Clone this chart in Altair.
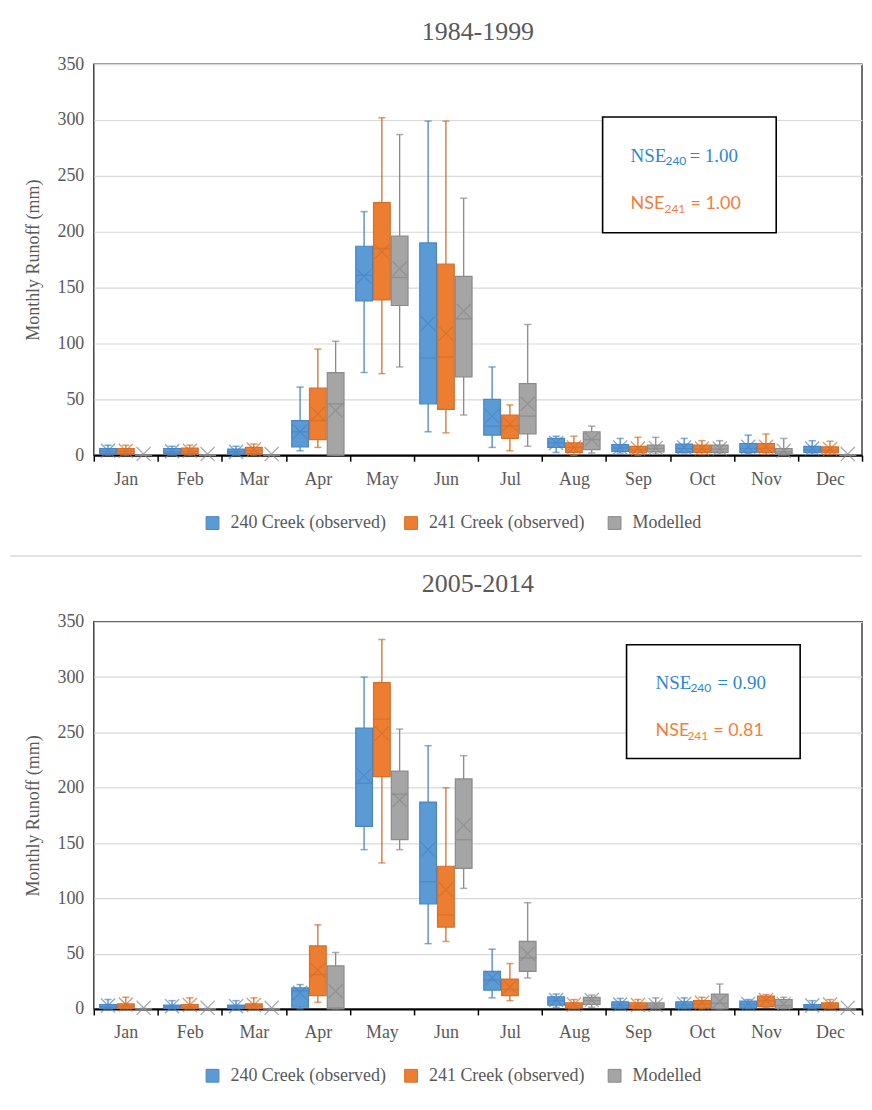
import altair as alt
import pandas as pd

months = ["Jan", "Feb", "Mar", "Apr", "May", "Jun", "Jul", "Aug", "Sep", "Oct", "Nov", "Dec"]
series = ["240 Creek (observed)", "241 Creek  (observed)", "Modelled"]
fills = ["#5B9BD5", "#ED7D31", "#A5A5A5"]
strokes = ["#4A85C4", "#D2702C", "#8A8A8A"]

# ---------- 1984-1999 ----------
p1_240_lo   = [0, 0, 0, 4, 74, 21, 7, 2.5, 2, 2, 1.5, 1]
p1_240_q1   = [1.5, 1.5, 1, 7.5, 138, 46, 18, 7, 3.5, 2.5, 2.5, 2.5]
p1_240_med  = [3.5, 3, 3, 21, 161, 87, 26, 11, 6.5, 6, 6, 5]
p1_240_q3   = [6, 6, 5.5, 31, 187, 190, 50, 15, 9.5, 10, 10.5, 8]
p1_240_hi   = [9, 8, 8, 61, 218, 299, 79, 17, 15, 15, 18, 13]
p1_240_mean = [4, 3.5, 3, 21, 160, 118, 35, 11, 7, 7, 7.5, 6]

p1_241_lo   = [0, 0, 0, 7, 73, 20, 4, 0, 0, 0.5, 1, 0.5]
p1_241_q1   = [1.5, 1.5, 1.5, 14, 139, 41, 15, 2.5, 2, 2.5, 2.5, 2]
p1_241_med  = [3.5, 3.5, 4, 31, 185, 88, 26, 7, 5, 5.5, 6, 4.5]
p1_241_q3   = [6, 6.3, 7, 60, 226, 171, 36, 11, 8, 9, 10.5, 7.5]
p1_241_hi   = [9, 9, 10, 95, 302, 299, 45, 17, 16, 13, 19, 12.5]
p1_241_mean = [4, 4, 5, 37, 182, 109, 28, 7, 6, 6, 7.5, 5.5]

p1_mod_lo   = [0, 0, 0, 0, 79, 36, 8, 2, 1, 1, 0, 0]
p1_mod_q1   = [0, 0, 0, 0, 134, 70, 19, 5, 3, 2.5, 1, 0]
p1_mod_med  = [0, 0, 0, 46, 159, 122, 35, 14, 6, 5.5, 3, 0]
p1_mod_q3   = [0, 0, 0, 74, 196, 160, 64, 21, 9, 9, 6, 0]
p1_mod_hi   = [0.5, 0.5, 0.5, 102, 287, 230, 117, 26, 16, 13, 15, 0.5]
p1_mod_mean = [1, 1, 1, 40, 167, 129, 46, 14, 6.5, 6, 4, 1]

# ---------- 2005-2014 ----------
p2_240_lo   = [0, 0, 0, 0, 144, 59, 10, 1.5, 0, 0, 0, 0]
p2_240_q1   = [0.5, 0.5, 0.5, 1.5, 165, 95, 17, 3.5, 1, 1, 1, 1]
p2_240_med  = [2, 2, 2, 16.5, 204, 115, 26, 7.5, 3.5, 3.5, 4, 2.5]
p2_240_q3   = [4, 3.5, 3.5, 19, 254, 187, 34, 11, 6.5, 6.5, 7, 4]
p2_240_hi   = [8.5, 7.5, 7.5, 22, 300, 238, 54, 13.5, 9.5, 10, 8.5, 7.5]
p2_240_mean = [3, 2.5, 2.5, 14.5, 211, 144, 28, 8, 4, 4.5, 4.5, 3]

p2_241_lo   = [0, 0, 0, 6, 132, 61, 7.5, 0, 0, 0, 1.5, 0]
p2_241_q1   = [0.5, 0.5, 0.5, 12, 210, 74, 12, 1, 0.5, 1, 2, 1]
p2_241_med  = [2.5, 2, 2.5, 31, 262, 85, 17.5, 3, 2.5, 4.5, 7.5, 3]
p2_241_q3   = [4.5, 4, 4.5, 57, 295, 129, 27, 5.5, 5.5, 7.5, 11.5, 5.5]
p2_241_hi   = [10.5, 10, 10, 76, 334, 200, 41, 8.5, 8.5, 10.5, 13, 8.5]
p2_241_mean = [4, 3.5, 3.5, 35, 249, 108, 20, 4, 3.5, 5.5, 8, 4]

p2_mod_lo   = [0, 0, 0, 0, 144, 109, 28, 1.5, 0, 0, 0, 0]
p2_mod_q1   = [0, 0, 0, 0, 153, 127, 34, 4, 1, 0, 0.5, 0]
p2_mod_med  = [0, 0, 0, 1, 194, 153, 46, 7.5, 3, 5, 3, 0]
p2_mod_q3   = [0, 0, 0, 39, 215, 208, 61, 10.5, 5.5, 13.5, 8.5, 0]
p2_mod_hi   = [0.5, 0.5, 0.5, 51, 253, 229, 96, 12.5, 10, 22.5, 10.5, 0.5]
p2_mod_mean = [1, 1, 1, 16, 189, 166, 50, 8, 3.5, 7, 4.5, 1]


def build(groups):
    rows = []
    for name, (lo, q1, med, q3, hi, mean) in zip(series, groups):
        for i, m in enumerate(months):
            rows.append(dict(month=m, series=name, lo=lo[i], q1=q1[i], med=med[i],
                             q3=q3[i], hi=hi[i], mean=mean[i]))
    return pd.DataFrame(rows)


df1 = build([
    (p1_240_lo, p1_240_q1, p1_240_med, p1_240_q3, p1_240_hi, p1_240_mean),
    (p1_241_lo, p1_241_q1, p1_241_med, p1_241_q3, p1_241_hi, p1_241_mean),
    (p1_mod_lo, p1_mod_q1, p1_mod_med, p1_mod_q3, p1_mod_hi, p1_mod_mean),
])
df2 = build([
    (p2_240_lo, p2_240_q1, p2_240_med, p2_240_q3, p2_240_hi, p2_240_mean),
    (p2_241_lo, p2_241_q1, p2_241_med, p2_241_q3, p2_241_hi, p2_241_mean),
    (p2_mod_lo, p2_mod_q1, p2_mod_med, p2_mod_q3, p2_mod_hi, p2_mod_mean),
])

SERIF = "Liberation Serif"
SANS = "Lato"
GREY_TXT = "#595959"
W = 770
YTITLE = "Monthly Runoff (mm)"
XMARK = "M-1,-1L1,1M1,-1L-1,1"
BLUE_T = "#2E86D1"
ORNG_T = "#F07F3C"


def panel(df, title, h, tofs, legy, nse_a, nse_b, box, t1, t2, divider):
    leg = alt.Legend(title=None, orient="none", direction="horizontal",
                     legendX=110, legendY=legy,
                     symbolType="square", symbolSize=165, symbolStrokeWidth=1,
                     labelFont=SERIF, labelFontSize=18, labelColor=GREY_TXT,
                     labelLimit=400, columnPadding=16, labelOffset=9)
    xenc = alt.X("month:N", sort=months, title=None,
                 scale=alt.Scale(paddingInner=0, paddingOuter=0),
                 axis=alt.Axis(tickBand="extent", labelAngle=0))
    xoff = alt.XOffset("series:N", sort=series,
                       scale=alt.Scale(domain=series, paddingInner=0.06, paddingOuter=0.33))
    yscale = alt.Scale(domain=[0, 350], nice=False)
    yaxis = alt.Axis(values=list(range(0, 351, 50)))
    st = alt.Stroke("series:N", scale=alt.Scale(domain=series, range=strokes), legend=leg)
    base = alt.Chart(df)

    def Y(f):
        return alt.Y(f, scale=yscale, axis=yaxis, title=YTITLE)

    whisk = base.mark_rule(strokeWidth=1.3).encode(
        x=xenc, xOffset=xoff, y=Y("lo:Q"), y2="hi:Q", stroke=st)
    boxes = base.mark_bar(strokeWidth=1.2).encode(
        x=xenc, xOffset=xoff, y=Y("q1:Q"), y2="q3:Q",
        color=alt.Color("series:N", scale=alt.Scale(domain=series, range=fills), legend=leg),
        stroke=st)
    cap_lo = base.mark_tick(thickness=0.3, size=6, orient="horizontal", filled=False,
                            strokeWidth=1.2).encode(
        x=xenc, xOffset=xoff, y=Y("lo:Q"), stroke=st)
    cap_hi = base.mark_tick(thickness=0.3, size=6, orient="horizontal", filled=False,
                            strokeWidth=1.2).encode(
        x=xenc, xOffset=xoff, y=Y("hi:Q"), stroke=st)
    med = base.mark_tick(thickness=0.3, size=16, orient="horizontal", filled=False,
                         strokeWidth=1.2).encode(
        x=xenc, xOffset=xoff, y=Y("med:Q"), stroke=st)
    mean = base.mark_point(shape=XMARK, size=200, filled=False, strokeWidth=1.3).encode(
        x=xenc, xOffset=xoff, y=Y("mean:Q"), stroke=st)

    ann = alt.Chart(pd.DataFrame({"k": [0]}))
    bx0, bx1, by0, by1 = box
    rect = ann.mark_rect(fill="white", stroke="#000000", strokeWidth=1.6).encode(
        x=alt.value(bx0), x2=alt.value(bx1), y=alt.value(by0), y2=alt.value(by1))
    texts = []
    (ax, asx, aex, ay), (bxx, bsx, bex, byy) = t1, t2
    texts.append(ann.mark_text(text="NSE", align="left", font=SERIF, fontSize=19,
                               color=BLUE_T).encode(x=alt.value(ax), y=alt.value(ay)))
    texts.append(ann.mark_text(text="240", align="left", font=SANS, fontSize=12,
                               color=BLUE_T).encode(x=alt.value(asx), y=alt.value(ay + 5)))
    texts.append(ann.mark_text(text="= " + nse_a, align="left", font=SERIF, fontSize=19,
                               color=BLUE_T).encode(x=alt.value(aex), y=alt.value(ay)))
    texts.append(ann.mark_text(text="NSE", align="left", font=SANS, fontSize=18,
                               color=ORNG_T).encode(x=alt.value(bxx), y=alt.value(byy)))
    texts.append(ann.mark_text(text="241", align="left", font=SANS, fontSize=12,
                               color=ORNG_T).encode(x=alt.value(bsx), y=alt.value(byy + 5)))
    texts.append(ann.mark_text(text="= " + nse_b, align="left", font=SANS, fontSize=18,
                               color=ORNG_T).encode(x=alt.value(bex), y=alt.value(byy)))

    layers = [whisk, boxes, cap_lo, cap_hi, med, mean, rect] + texts
    if divider:
        layers.append(ann.mark_rule(color="#D9D9D9", strokeWidth=1.5).encode(
            x=alt.value(-84), x2=alt.value(W), y=alt.value(h + 101)))
    return alt.layer(*layers).properties(
        width=W, height=h,
        title=alt.TitleParams(title, font=SERIF, fontSize=26, fontWeight="normal",
                              color=GREY_TXT, offset=tofs))


top = panel(df1, "1984-1999", 392, 10, 451, "1.00", "1.00",
            (510, 684, 53, 169),
            (538, 573, 597, 92), (538, 572, 598, 140), True)
bottom = panel(df2, "2005-2014", 388, 16, 446, "0.90", "0.81",
               (534, 708, 23, 137),
               (563, 598, 625, 61), (563, 595, 621, 109), False)

chart = alt.vconcat(top, bottom, spacing=12).resolve_scale(
    color="independent", stroke="independent",
    x="independent", y="independent", xOffset="independent"
).resolve_legend(color="independent", stroke="independent").properties(
    padding={"left": 0, "top": 9, "right": 0, "bottom": 2}
).configure(
    background="white"
).configure_view(
    stroke="#404040", strokeWidth=1.5
).configure_axis(
    labelFont=SERIF, labelColor=GREY_TXT, titleFont=SERIF, titleColor=GREY_TXT,
    titleFontWeight="normal"
).configure_axisX(
    labelFontSize=18, labelPadding=9, tickSize=6, tickColor="#000000", tickWidth=1.5,
    domainColor="#000000", domainWidth=2, grid=False
).configure_axisY(
    labelFontSize=18, titleFontSize=18, labelPadding=10, titlePadding=14,
    grid=True, gridColor="#D9D9D9", gridWidth=1.2, ticks=False, domain=False
)

chart.save("out.html", embed_options={"renderer": "svg", "actions": False})
